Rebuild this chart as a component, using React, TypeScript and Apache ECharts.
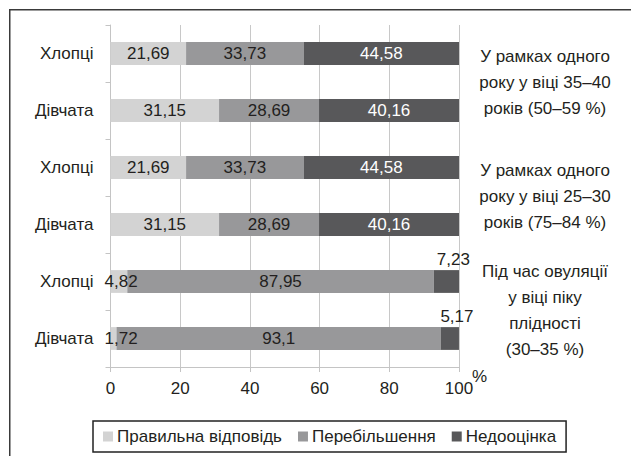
import React, { useEffect, useRef } from "react";
import * as echarts from "echarts";

const categories = ["Хлопці", "Дівчата", "Хлопці", "Дівчата", "Хлопці", "Дівчата"];
const groupLabels = [
  "У рамках одного\nроку у віці 35–40\nроків (50–59 %)",
  "У рамках одного\nроку у віці 25–30\nроків (75–84 %)",
  "Під час овуляції\nу віці піку\nплідності\n(30–35 %)",
];
const seriesNames = ["Правильна відповідь", "Перебільшення", "Недооцінка"];
const correctValues = [21.69, 31.15, 21.69, 31.15, 4.82, 1.72];
const overValues = [33.73, 28.69, 33.73, 28.69, 87.95, 93.1];
const underValues = [44.58, 40.16, 44.58, 40.16, 7.23, 5.17];
const xTicks = { min: 0, max: 100, interval: 20 };
const unitLabel = "%";

const FONT = "'Liberation Sans', Arial, sans-serif";
const TEXT = "#231f20";
const COLORS = ["#d3d3d3", "#98989a", "#58585a"];

const fmt = (v: number) => String(v).replace(".", ",");

export default function App() {
  const ref = useRef<HTMLDivElement>(null);
  useEffect(() => {
    if (!ref.current) return;
    const chart = echarts.init(ref.current, undefined, { renderer: "svg" });
    const labelBase = {
      show: true,
      position: "inside",
      fontSize: 17,
      fontFamily: FONT,
      formatter: (p: any) => fmt(p.value),
    };
    const correctData = correctValues.map((v) =>
      v < 10
        ? { value: v, label: { position: "insideLeft", offset: [-11, 0] } }
        : v
    );
    const underData = underValues.map((v) =>
      v < 10
        ? {
            value: v,
            label: { position: "top", color: TEXT, offset: [7, 0], distance: 2 },
          }
        : v
    );
    chart.setOption({
      animation: false,
      backgroundColor: "#ffffff",
      textStyle: { fontFamily: FONT },
      grid: { left: 110.5, right: 172, top: 25, bottom: 89, containLabel: false },
      xAxis: {
        type: "value",
        min: xTicks.min,
        max: xTicks.max,
        interval: xTicks.interval,
        axisLine: { show: true, lineStyle: { color: "#c4c4c4", width: 1 } },
        axisTick: { show: true, length: 5, lineStyle: { color: "#c4c4c4" } },
        axisLabel: { fontSize: 17, color: TEXT, fontFamily: FONT, margin: 13 },
        splitLine: { show: true, lineStyle: { color: "#c8c8c8", width: 1 } },
      },
      yAxis: [
        {
          type: "category",
          inverse: true,
          data: categories,
          axisLine: { show: true, lineStyle: { color: "#c4c4c4" } },
          axisTick: { show: true, length: 5, lineStyle: { color: "#c4c4c4" } },
          axisLabel: { fontSize: 17, color: TEXT, fontFamily: FONT, margin: 17 },
          splitLine: { show: false },
        },
        {
          type: "category",
          inverse: true,
          position: "right",
          data: groupLabels,
          axisLine: { show: false },
          axisTick: { show: false },
          splitLine: { show: false },
          axisLabel: {
            fontSize: 17,
            color: TEXT,
            fontFamily: FONT,
            align: "center",
            lineHeight: 26,
            margin: 86,
          },
        },
      ],
      legend: {
        data: seriesNames,
        left: 93,
        top: 421,
        orient: "horizontal",
        borderColor: "#222222",
        borderWidth: 1.5,
        padding: [7, 10, 7, 10],
        itemWidth: 10,
        itemHeight: 10,
        itemGap: 16,
        icon: "rect",
        selectedMode: false,
        textStyle: { fontSize: 17, color: TEXT, fontFamily: FONT, padding: [0, 0, 0, -1] },
      },
      series: [
        {
          name: seriesNames[0],
          type: "bar",
          stack: "total",
          yAxisIndex: 0,
          barWidth: "40%",
          itemStyle: { color: COLORS[0] },
          label: { ...labelBase, color: TEXT },
          data: correctData,
        },
        {
          name: seriesNames[1],
          type: "bar",
          stack: "total",
          yAxisIndex: 0,
          barWidth: "40%",
          itemStyle: { color: COLORS[1] },
          label: { ...labelBase, color: TEXT },
          data: overValues,
        },
        {
          name: seriesNames[2],
          type: "bar",
          stack: "total",
          yAxisIndex: 0,
          barWidth: "40%",
          itemStyle: { color: COLORS[2] },
          label: { ...labelBase, color: "#ffffff" },
          data: underData,
        },
      ],
      graphic: [
        {
          type: "text",
          silent: true,
          x: 472,
          y: 368,
          style: {
            text: unitLabel,
            fontSize: 17,
            fontFamily: FONT,
            fill: TEXT,
            textAlign: "left",
            textVerticalAlign: "top",
          },
        },
        {
          type: "rect",
          silent: true,
          shape: { x: 9.75, y: 9.75, width: 900, height: 900 },
          style: { fill: "none", stroke: "#3a3a3a", lineWidth: 1.5 },
          z: 100,
        },
      ],
    });
    return () => chart.dispose();
  }, []);
  return (
    <div
      ref={ref}
      style={{ position: "fixed", left: 0, top: 0, width: 631, height: 456 }}
    />
  );
}
